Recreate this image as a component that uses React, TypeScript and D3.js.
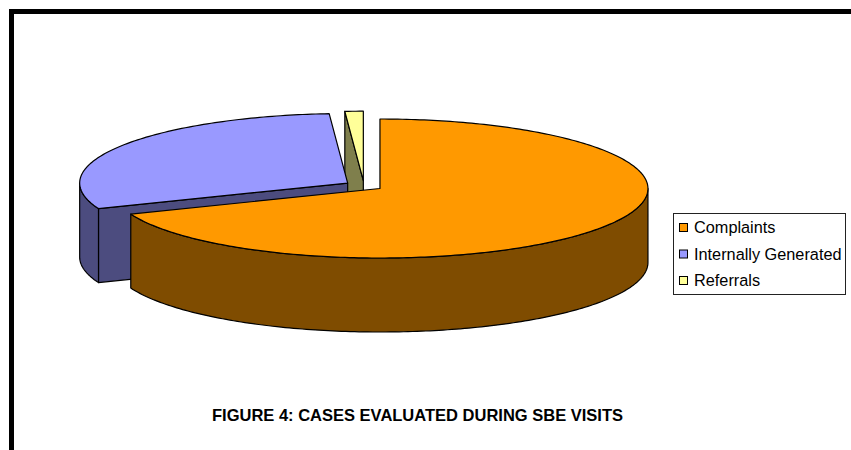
import React from "react";
import * as d3 from "d3";

// Share of cases by source, in percent
const categories = ["Complaints", "Internally Generated", "Referrals"];
const caseShares = [69.0, 29.9, 1.1];
const topColors = ["#FF9900", "#9999FF", "#FFFF99"];
const sideColors = ["#7F4C00", "#4C4C7F", "#7F7F4C"];
const chartTitle = "FIGURE 4: CASES EVALUATED DURING SBE VISITS";

const WIDTH = 851;
const HEIGHT = 450;
const CX = 364;
const CY = 185.7;
const RX = 268;
const RY = 69.5;
const DEPTH = 74;
const EXPLODE = 0.072;

type Pt = [number, number];

const pieLayout = d3.pie<number>().sort(null).value((d) => d);
const toPath = d3.line<Pt>();

// Samples the rim between two angles (radians, clockwise from the top)
function rim(a0: number, a1: number, ox: number, oy: number): Pt[] {
  const n = Math.max(2, Math.ceil(Math.abs(a1 - a0) * 60));
  return d3.range(n + 1).map((i) => {
    const a = a0 + ((a1 - a0) * i) / n;
    return [ox + RX * Math.sin(a), oy - RY * Math.cos(a)] as Pt;
  });
}

const down = (pts: Pt[]): Pt[] => pts.map(([x, y]) => [x, y + DEPTH] as Pt);

function Slice({ arc, index }: { arc: d3.PieArcDatum<number>; index: number }) {
  const mid = (arc.startAngle + arc.endAngle) / 2;
  const ox = CX + EXPLODE * RX * Math.sin(mid);
  const oy = CY - EXPLODE * RY * Math.cos(mid);
  const apex: Pt = [ox, oy];
  const top = rim(arc.startAngle, arc.endAngle, ox, oy);
  const startPt = top[0];
  const endPt = top[top.length - 1];

  // A cut face is drawn only when its outward normal points at the viewer
  const faces: Pt[][] = [];
  if (Math.sin(arc.startAngle) < -1e-6) {
    faces.push([apex, startPt, [startPt[0], startPt[1] + DEPTH], [apex[0], apex[1] + DEPTH]]);
  }
  if (Math.sin(arc.endAngle) > 1e-6) {
    faces.push([apex, endPt, [endPt[0], endPt[1] + DEPTH], [apex[0], apex[1] + DEPTH]]);
  }

  // Only the near half of the rim has a visible outer wall
  const from = Math.max(arc.startAngle, Math.PI / 2);
  const to = Math.min(arc.endAngle, (3 * Math.PI) / 2);
  const wallTop = to > from ? rim(from, to, ox, oy) : [];
  const wall = wallTop.length ? [...wallTop, ...down(wallTop).reverse()] : [];

  const stroke = { stroke: "#000", strokeWidth: 1.2, strokeLinejoin: "round" as const };
  return (
    <g>
      {faces.map((f, i) => (
        <path key={i} d={toPath(f) + "Z"} fill={sideColors[index]} {...stroke} />
      ))}
      {wall.length > 0 && <path d={toPath(wall) + "Z"} fill={sideColors[index]} {...stroke} />}
      <path d={toPath([apex, ...top]) + "Z"} fill={topColors[index]} {...stroke} />
    </g>
  );
}

export default function App() {
  const arcs = pieLayout(caseShares);
  // Back slices first so the large near slice overlaps them
  const order = [2, 1, 0];
  const legendY = d3.scalePoint<string>().domain(categories).range([228, 281]);
  return (
    <svg
      width={WIDTH}
      height={HEIGHT}
      viewBox={`0 0 ${WIDTH} ${HEIGHT}`}
      style={{ position: "fixed", left: 0, top: 0, background: "#fff" }}
    >
      <path d={`M11.5 ${HEIGHT}V11.5H${WIDTH}`} fill="none" stroke="#000" strokeWidth={5} />
      {order.map((i) => (
        <Slice key={i} arc={arcs[i]} index={i} />
      ))}
      <rect x={673.5} y={213.5} width={172} height={81} fill="#fff" stroke="#222" strokeWidth={1} />
      {categories.map((c, i) => (
        <g key={c}>
          <rect x={679.5} y={legendY(c)! - 4.5} width={8} height={8} fill={topColors[i]} stroke="#000" strokeWidth={1} />
          <text
            x={694}
            y={legendY(c)! + 5}
            fontFamily="'Liberation Sans', Arial, sans-serif"
            fontSize={16.3}
            fill="#000"
          >
            {c}
          </text>
        </g>
      ))}
      <text
        x={417.5}
        y={421}
        textAnchor="middle"
        fontFamily="'Liberation Sans', Arial, sans-serif"
        fontSize={16.5}
        fontWeight="bold"
        fill="#000"
      >
        {chartTitle}
      </text>
    </svg>
  );
}
